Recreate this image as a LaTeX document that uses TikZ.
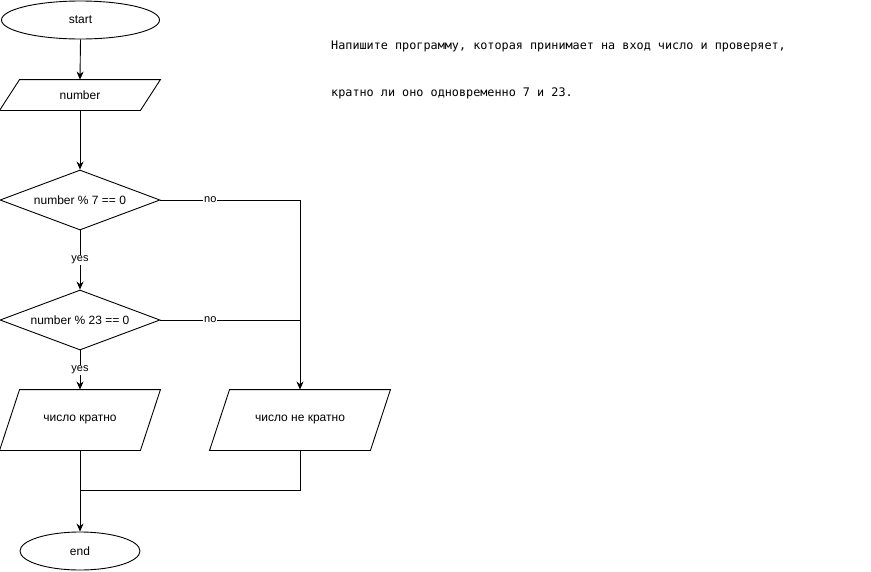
\documentclass[tikz,border=0pt]{standalone}
\usepackage{fontspec}
\setmainfont{Liberation Sans}
\newfontfamily\monof{DejaVu Sans Mono}
\usetikzlibrary{shapes.geometric,arrows.meta}
\tikzset{
  base/.style={font=\fontsize{12}{14}\selectfont, inner sep=0pt, line width=0.9pt},
  term/.style={base, ellipse, draw},
  dec/.style={base, diamond, draw, aspect=2.67, minimum width=160pt, minimum height=60pt},
  io/.style={base, draw=none, minimum height=#1},
  lbl/.style={font=\fontsize{11}{13}\selectfont, fill=white, inner sep=1pt},
  conn/.style={line width=0.9pt, -{Stealth[length=8pt,width=7pt]}},
  plain/.style={line width=0.9pt},
  par/.style={line width=0.9pt}
}
\begin{document}
\begin{tikzpicture}[x=1pt,y=-1pt]
\useasboundingbox (0,0) rectangle (871,571);
\node[term, minimum width=158pt, minimum height=38pt] (start) at (80.5,20) {start};
\node[io=30pt, minimum width=160pt] (num) at (80,95) {number};
\node[dec] (d1) at (80,200) {number \% 7 == 0};
\node[dec] (d2) at (80,320) {number \% 23 == 0};
\node[io=60pt, minimum width=160pt] (kr) at (80,420) {число кратно};
\node[io=60pt, minimum width=180pt] (nk) at (300,420) {число не кратно};
\node[term, minimum width=120pt, minimum height=38pt] (end) at (80,551) {end};
\node[anchor=west, font=\monof\fontsize{11.8}{14}\selectfont, inner sep=0pt] (t1) at (331,46) {Напишите программу, которая принимает на вход число и проверяет,};
\node[anchor=west, font=\monof\fontsize{11.8}{14}\selectfont, inner sep=0pt] (t2) at (331,93) {кратно ли оно одновременно 7 и 23.};
% parallelogram outlines
\draw[par] ([xshift=20pt]num.north west) -- (num.north east) -- ([xshift=-20pt]num.south east) -- (num.south west) -- cycle;
\draw[par] ([xshift=20pt]kr.north west) -- (kr.north east) -- ([xshift=-20pt]kr.south east) -- (kr.south west) -- cycle;
\draw[par] ([xshift=20pt]nk.north west) -- (nk.north east) -- ([xshift=-20pt]nk.south east) -- (nk.south west) -- cycle;
% connectors
\draw[conn] (start.south) -- (num.north);
\draw[conn] (num.south) -- (d1.north);
\draw[conn] (d1.south) -- node[lbl]{yes} (d2.north);
\draw[conn] (d2.south) -- node[lbl]{yes} (kr.north);
\draw[conn] (d1.east) -- node[lbl,pos=0.357]{no} (d1.east -| nk.north) -- (nk.north);
\draw[plain] (d2.east) -- node[lbl,pos=0.357]{no} (d2.east -| nk.north);
\coordinate (j) at (80,490);
\draw[plain] (nk.south) |- (j);
\draw[conn] (kr.south) -- (end.north);
\end{tikzpicture}
\end{document}
